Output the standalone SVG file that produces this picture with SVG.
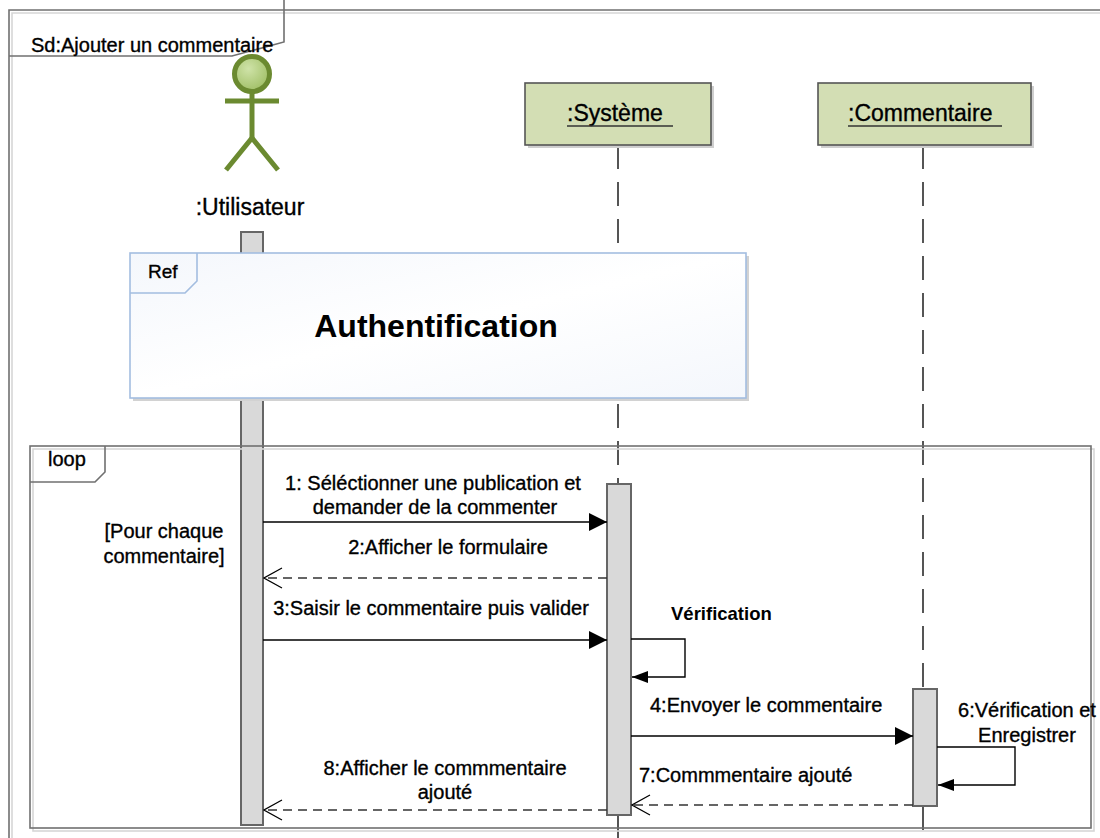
<svg xmlns="http://www.w3.org/2000/svg" width="1100" height="838" viewBox="0 0 1100 838">
<defs>
  <radialGradient id="headG" cx="0.4" cy="0.35" r="0.7">
    <stop offset="0" stop-color="#cfe3a8"/>
    <stop offset="1" stop-color="#9ebd63"/>
  </radialGradient>
  <linearGradient id="refG" x1="0" y1="0" x2="1" y2="1">
    <stop offset="0" stop-color="#f4f7fc"/>
    <stop offset="0.5" stop-color="#ffffff"/>
    <stop offset="1" stop-color="#f4f7fc"/>
  </linearGradient>
  <marker id="filled" viewBox="0 0 18 18" refX="18" refY="9" markerWidth="18" markerHeight="18" markerUnits="userSpaceOnUse" orient="auto">
    <path d="M0,0 L18,9 L0,18 Z" fill="#000"/>
  </marker>
  <marker id="filledS" viewBox="0 0 16 12" refX="16" refY="6" markerWidth="16" markerHeight="12" markerUnits="userSpaceOnUse" orient="auto">
    <path d="M0,0 L16,6 L0,12 Z" fill="#000"/>
  </marker>
  <marker id="open" viewBox="0 0 20 22" refX="19" refY="11" markerWidth="20" markerHeight="22" markerUnits="userSpaceOnUse" orient="auto">
    <path d="M1,1 L19,11 L1,21" fill="none" stroke="#000" stroke-width="1.2"/>
  </marker>
</defs>
<style>
  text { font-family: "Liberation Sans", Arial, sans-serif; fill: #000; stroke: #000; stroke-width: 0.35; }
  .t20 { font-size: 20px; }
  .b { font-weight: bold; stroke-width: 0; }
  .frame { fill: none; stroke: #707070; stroke-width: 1.6; }
  .shadow { fill: none; stroke: #d6d6d6; stroke-width: 1.6; }
  .life { fill: none; stroke: #555; stroke-width: 2; stroke-dasharray: 24 13; }
  .bar { fill: #d9d9d9; stroke: #666; stroke-width: 2; }
  .obj { fill: #d3deb4; stroke: #555; stroke-width: 1.6; }
  .objsh { fill: #cfcfcf; }
  .msg { fill: none; stroke: #000; stroke-width: 1.4; }
  .ret { fill: none; stroke: #333; stroke-width: 1.4; stroke-dasharray: 9 6; }
  .actor { fill: none; stroke: #6b8a30; stroke-width: 5; stroke-linecap: butt; }
</style>
<rect width="1100" height="838" fill="#fff"/>

<g id="frame">
  <path class="shadow" d="M12,838 V13 H1100"/>
  <path class="frame" d="M9,838 V10 H1100"/>
  <path class="frame" d="M9,56 H232 L284,42 V0"/>
  <text class="t20" x="31" y="52">Sd:Ajouter un commentaire</text>
</g>

<g id="lifelines">
  <line class="life" x1="618" y1="145" x2="618" y2="484"/>
  <line class="life" x1="618" y1="815" x2="618" y2="838"/>
  <line class="life" x1="923" y1="145" x2="923" y2="689"/>
  <line class="life" x1="923" y1="806" x2="923" y2="838"/>
</g>

<g id="utilisateur">
  <circle cx="252" cy="74" r="17.5" fill="url(#headG)" stroke="#6b8a30" stroke-width="5"/>
  <line class="actor" x1="225" y1="101" x2="279" y2="101"/>
  <line class="actor" x1="252" y1="91" x2="252" y2="138"/>
  <polyline class="actor" points="226,170 252,138 278,170"/>
  <text x="250" y="215" font-size="23" text-anchor="middle">:Utilisateur</text>
  <rect class="bar" x="241" y="232" width="22" height="593"/>
</g>

<g id="systeme">
  <rect class="objsh" x="528" y="86" width="186" height="62"/>
  <rect class="obj" x="525" y="83" width="186" height="62"/>
  <text x="567" y="121" font-size="23">:Système</text>
  <line x1="567" y1="126" x2="673" y2="126" stroke="#333" stroke-width="1.5"/>
  <rect class="bar" x="607" y="484" width="24" height="331"/>
</g>

<g id="commentaire">
  <rect class="objsh" x="821" y="86" width="213" height="62"/>
  <rect class="obj" x="818" y="83" width="213" height="62"/>
  <text x="848" y="121" font-size="23">:Commentaire</text>
  <line x1="848" y1="126" x2="1002" y2="126" stroke="#333" stroke-width="1.5"/>
  <rect class="bar" x="913" y="689" width="24" height="117"/>
</g>

<g id="ref">
  <rect x="133" y="256" width="616" height="145" fill="#d2d2d2"/>
  <rect x="130" y="253" width="616" height="145" fill="url(#refG)" stroke="#a3bde0" stroke-width="1.6"/>
  <path d="M130,293 H185 L197,281 V253" fill="none" stroke="#a3bde0" stroke-width="1.6"/>
  <text x="148" y="278" font-size="19">Ref</text>
  <text class="b" x="436" y="337" font-size="32" text-anchor="middle">Authentification</text>
</g>

<g id="loop">
  <rect class="shadow" x="33" y="449" width="1061" height="382"/>
  <rect class="frame" x="30" y="446" width="1061" height="382"/>
  <path class="frame" d="M30,482 H95 L105,472 V446"/>
  <text class="t20" x="48" y="466">loop</text>
  <text class="t20" x="164" y="538" text-anchor="middle">[Pour chaque</text>
  <text class="t20" x="164" y="563" text-anchor="middle">commentaire]</text>
</g>

<g id="messages">
  <line class="msg" x1="263" y1="522" x2="607" y2="522" marker-end="url(#filled)"/>
  <text class="t20" x="433" y="490" text-anchor="middle">1: Séléctionner une publication et</text>
  <text class="t20" x="435" y="514" text-anchor="middle">demander de la commenter</text>

  <line class="ret" x1="607" y1="578" x2="264" y2="578" marker-end="url(#open)"/>
  <text class="t20" x="448" y="554" text-anchor="middle">2:Afficher le formulaire</text>

  <line class="msg" x1="263" y1="640" x2="607" y2="640" marker-end="url(#filled)"/>
  <text class="t20" x="431" y="615" text-anchor="middle">3:Saisir le commentaire puis valider</text>

  <path class="msg" d="M631,639 H685 V677 H632" marker-end="url(#filledS)"/>
  <text class="b" x="671" y="620" font-size="18.5">Vérification</text>

  <line class="msg" x1="631" y1="736" x2="913" y2="736" marker-end="url(#filled)"/>
  <text class="t20" x="650" y="712">4:Envoyer le commentaire</text>

  <path class="msg" d="M937,747 H1015 V785 H938" marker-end="url(#filledS)"/>
  <text class="t20" x="1027" y="717" text-anchor="middle">6:Vérification et</text>
  <text class="t20" x="1027" y="742" text-anchor="middle">Enregistrer</text>

  <line class="ret" x1="913" y1="805" x2="632" y2="805" marker-end="url(#open)"/>
  <text class="t20" x="639" y="782">7:Commmentaire ajouté</text>

  <line class="ret" x1="607" y1="810" x2="264" y2="810" marker-end="url(#open)"/>
  <text class="t20" x="445" y="775" text-anchor="middle">8:Afficher le commmentaire</text>
  <text class="t20" x="445" y="799" text-anchor="middle">ajouté</text>
</g>
</svg>
